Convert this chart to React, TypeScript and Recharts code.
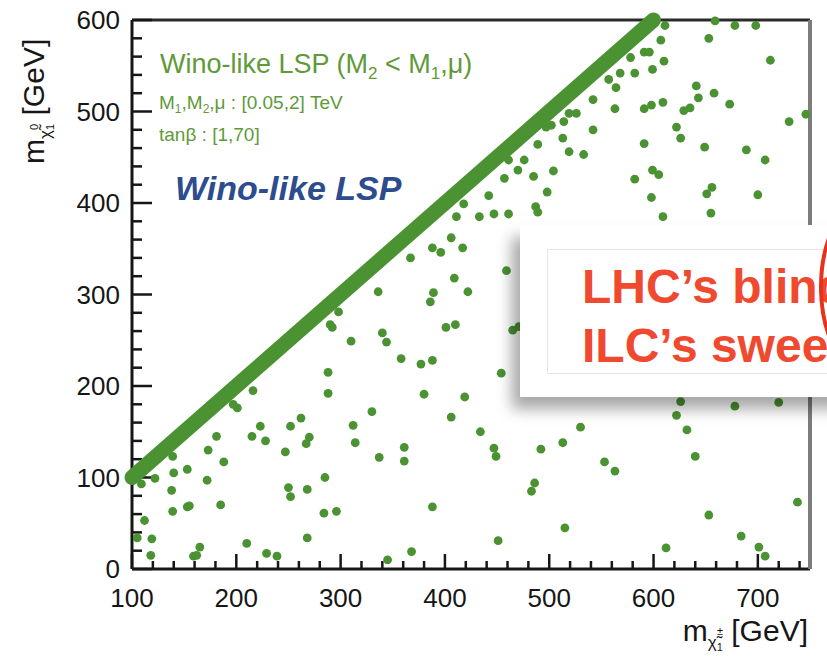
import React from "react";
import { ScatterChart, Scatter, XAxis, YAxis } from "recharts";

// m(chargino) vs m(neutralino) scan, Wino-like LSP
const X_TICKS = [
  100, 120, 140, 160, 180, 200, 220, 240, 260, 280, 300, 320, 340, 360, 380, 400, 420,
  440, 460, 480, 500, 520, 540, 560, 580, 600, 620, 640, 660, 680, 700, 720, 740,
];
const Y_TICKS = [
  0, 20, 40, 60, 80, 100, 120, 140, 160, 180, 200, 220, 240, 260, 280, 300, 320, 340,
  360, 380, 400, 420, 440, 460, 480, 500, 520, 540, 560, 580, 600,
];
const X_LABELS = [100, 200, 300, 400, 500, 600, 700];
const Y_LABELS = [0, 100, 200, 300, 400, 500, 600];

// nearly degenerate points along m_chi0 = m_chi+
const degenerateBand = [
  { x: 100, y: 100 },
  { x: 600, y: 600 },
];

const lowLeftPts: [number, number][] = [
  [298, 281], [290, 267], [292, 264], [310, 249], [288, 215], [288, 192], [216, 195],
  [197, 180], [201, 176], [223, 156], [215, 145], [228, 140], [252, 156], [262, 165],
  [270, 144], [267, 137], [312, 157], [314, 138], [181, 145], [173, 130], [188, 117],
  [247, 128], [139, 123], [153, 109], [140, 105], [122, 99], [109, 93], [172, 97],
  [138, 86], [250, 89], [252, 79], [268, 87], [285, 100], [185, 70], [153, 68], [155, 69],
  [139, 63], [284, 61], [296, 63], [112, 53], [105, 34], [119, 33], [268, 34], [210, 28],
  [165, 24], [159, 14], [162, 15], [118, 15], [229, 17], [239, 14],
];
const lowMidPts: [number, number][] = [
  [336, 303], [389, 302], [386, 292], [422, 303], [401, 264], [410, 267], [465, 261],
  [471, 265], [340, 258], [344, 248], [358, 230], [377, 224], [388, 228], [454, 214],
  [380, 191], [419, 188], [330, 172], [406, 166], [434, 150], [361, 133], [361, 118],
  [337, 122], [447, 132], [449, 123], [492, 131], [513, 138], [530, 155], [486, 94],
  [483, 85], [388, 68], [515, 45], [451, 31], [368, 19], [345, 10],
];
const lowRightPts: [number, number][] = [
  [626, 183], [622, 168], [678, 178], [720, 182], [632, 152], [640, 123], [553, 117],
  [563, 107], [738, 73], [653, 59], [684, 36], [612, 23], [701, 24], [707, 14],
];
const highMidPts: [number, number][] = [
  [526, 498], [519, 498], [514, 489], [513, 471], [519, 456], [533, 453], [502, 485],
  [497, 483], [489, 464], [476, 447], [470, 436], [461, 447], [504, 435], [485, 429],
  [457, 427], [498, 412], [442, 408], [487, 396], [489, 390], [418, 399], [411, 385],
  [433, 385], [447, 388], [461, 388], [406, 362], [388, 351], [396, 346], [417, 351],
  [367, 340], [459, 326], [409, 318],
];
const highRightPts: [number, number][] = [
  [611, 594], [659, 599], [678, 594], [698, 594], [653, 580], [607, 578], [591, 565],
  [596, 565], [578, 559], [610, 555], [712, 556], [599, 546], [582, 542], [568, 542],
  [557, 535], [564, 526], [641, 528], [658, 520], [643, 515], [542, 513], [673, 508],
  [563, 503], [591, 503], [598, 507], [609, 510], [629, 501], [635, 504], [622, 483],
  [626, 471], [542, 480], [730, 489], [746, 497], [591, 465], [649, 461], [689, 458],
  [707, 447], [582, 426], [599, 436], [605, 431], [656, 417], [651, 410], [598, 406],
  [700, 409], [609, 385], [655, 389],
];

const scanPoints = [...lowLeftPts, ...lowMidPts, ...lowRightPts, ...highMidPts, ...highRightPts].map(
  ([x, y]) => ({ x, y })
);

// inward tick marks, placed through the chart scales
const xTickMarks = X_TICKS.map((x) => ({ x, y: 0 }));
const yTickMarks = Y_TICKS.map((y) => ({ x: 100, y }));

const GREEN = "#4a9232";
const FONT = "'Liberation Sans', Arial, Helvetica, sans-serif";
const INK = "#161616";

function XLabel(props: any) {
  const { x, y, payload } = props;
  const v = payload.value;
  if (!X_LABELS.includes(v)) return <g />;
  return (
    <text x={x} y={y + 38} textAnchor="middle" fontSize={26} fill={INK} fontFamily={FONT}>
      {v}
    </text>
  );
}

function YLabel(props: any) {
  const { x, y, payload } = props;
  const v = payload.value;
  if (!Y_LABELS.includes(v)) return <g />;
  return (
    <text x={x - 12} y={y + 9} textAnchor="end" fontSize={26} fill={INK} fontFamily={FONT}>
      {v}
    </text>
  );
}

function XTickMark(p: any) {
  const major = p.payload.x % 100 === 0;
  return <path d={`M${p.cx},${p.cy}V${p.cy - (major ? 15 : 8)}`} stroke={INK} strokeWidth={2.5} fill="none" />;
}

function YTickMark(p: any) {
  const major = p.payload.y % 100 === 0;
  return <path d={`M${p.cx},${p.cy}H${p.cx + (major ? 20 : 10)}`} stroke={INK} strokeWidth={2.5} fill="none" />;
}

export default function App() {
  return (
    <div
      style={{
        position: "fixed",
        left: 0,
        top: 0,
        width: 827,
        height: 660,
        background: "#fff",
        overflow: "hidden",
        fontFamily: FONT,
      }}
    >
      <ScatterChart width={827} height={660} margin={{ top: 19, right: 16, bottom: 90, left: 131 }}>
        <XAxis
          type="number"
          dataKey="x"
          domain={[100, 750]}
          ticks={X_TICKS}
          interval={0}
          height={1}
          tickSize={0}
          tickMargin={0}
          tickLine={false}
          tick={<XLabel />}
          axisLine={{ stroke: INK, strokeWidth: 3 }}
        />
        <YAxis
          type="number"
          dataKey="y"
          domain={[0, 600]}
          ticks={Y_TICKS}
          interval={0}
          width={1}
          tickSize={0}
          tickMargin={0}
          tickLine={false}
          tick={<YLabel />}
          axisLine={{ stroke: INK, strokeWidth: 3 }}
        />
        {/* top and right frame */}
        <XAxis
          xAxisId="frameTop"
          orientation="top"
          type="number"
          domain={[100, 750]}
          height={1}
          tick={false}
          tickLine={false}
          axisLine={{ stroke: "#2a2a2a", strokeWidth: 3 }}
        />
        <YAxis
          yAxisId="frameRight"
          orientation="right"
          type="number"
          domain={[0, 600]}
          width={1}
          tick={false}
          tickLine={false}
          axisLine={{ stroke: "#7d7d7d", strokeWidth: 4 }}
        />
        <Scatter data={xTickMarks} isAnimationActive={false} shape={(p: any) => <XTickMark {...p} />} />
        <Scatter data={yTickMarks} isAnimationActive={false} shape={(p: any) => <YTickMark {...p} />} />
        <Scatter
          data={scanPoints}
          isAnimationActive={false}
          shape={(p: any) => <circle cx={p.cx} cy={p.cy} r={4.4} fill={GREEN} />}
        />
        <Scatter
          data={degenerateBand}
          isAnimationActive={false}
          line={{ stroke: GREEN, strokeWidth: 15, strokeLinecap: "round" }}
          shape={() => <g />}
        />
      </ScatterChart>

      {/* callout box */}
      <div
        style={{
          position: "absolute",
          left: 520,
          top: 225,
          width: 340,
          height: 172,
          background: "#fff",
          boxShadow: "-8px 12px 14px rgba(0,0,0,0.35)",
        }}
      >
        <div
          style={{
            position: "absolute",
            left: 27,
            top: 24,
            width: 320,
            height: 123,
            border: "1px solid #e6e6e6",
          }}
        />
      </div>

      <svg
        width={827}
        height={660}
        style={{ position: "absolute", left: 0, top: 0, pointerEvents: "none" }}
        fontFamily={FONT}
      >
        <text x={160} y={73} fontSize={27} fill="#5f9a3a">
          Wino-like LSP (M
          <tspan fontSize={17} dy={6}>2</tspan>
          <tspan dy={-6}> &lt; M</tspan>
          <tspan fontSize={17} dy={6}>1</tspan>
          <tspan dy={-6}>,μ)</tspan>
        </text>
        <text x={159} y={109} fontSize={19} fill="#5f9a3a">
          M<tspan fontSize={12} dy={4}>1</tspan>
          <tspan dy={-4}>,M</tspan>
          <tspan fontSize={12} dy={4}>2</tspan>
          <tspan dy={-4}>,μ : [0.05,2] TeV</tspan>
        </text>
        <text x={159} y={141} fontSize={19} fill="#5f9a3a">
          tanβ : [1,70]
        </text>
        <text x={175} y={200} fontSize={34} fontWeight="bold" fontStyle="italic" fill="#2c4c8e">
          Wino-like LSP
        </text>

        <text transform="translate(44,164) rotate(-90)" fontSize={30} fill={INK}>
          m
          <tspan fontSize={17} dy={7}>χ̃</tspan>
          <tspan fontSize={11} dy={3}>1</tspan>
          <tspan fontSize={11} dx={-6} dy={-16}>0</tspan>
          <tspan dy={6}> [GeV]</tspan>
        </text>
        <text x={808} y={641} textAnchor="end" fontSize={30} fill={INK}>
          m
          <tspan fontSize={17} dy={7}>χ̃</tspan>
          <tspan fontSize={11} dy={3}>1</tspan>
          <tspan fontSize={11} dx={-6} dy={-16}>±</tspan>
          <tspan dy={6}> [GeV]</tspan>
        </text>

        <text x={582} y={303} fontSize={48} fontWeight="bold" fill="#ef4a2f">
          LHC’s blind
        </text>
        <text x={582} y={362} fontSize={48} fontWeight="bold" fill="#ef4a2f">
          ILC’s sweet
        </text>
        <ellipse cx={885} cy={287} rx={64} ry={100} fill="none" stroke="#e8321e" strokeWidth={4} />
      </svg>
    </div>
  );
}
